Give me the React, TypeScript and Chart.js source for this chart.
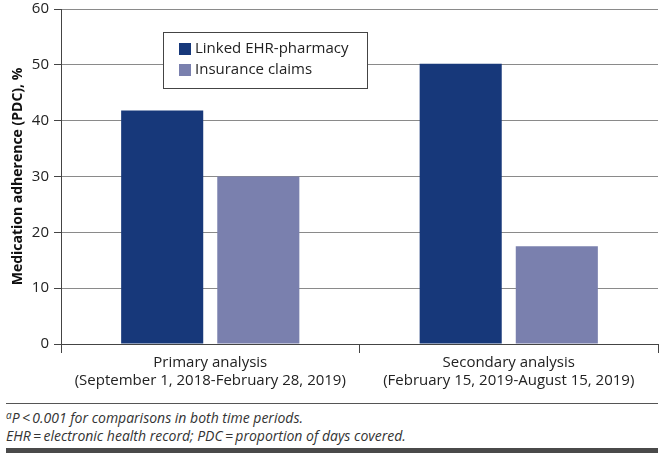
import React, { useEffect, useRef } from "react";
import { Chart, registerables } from "chart.js";

Chart.register(...registerables);

const categories: string[][] = [
  ["Primary analysis", "(September 1, 2018-February 28, 2019)"],
  ["Secondary analysis", "(February 15, 2019-August 15, 2019)"],
];
const seriesNames = ["Linked EHR-pharmacy", "Insurance claims"];
const linkedValues = [41.8, 50.2];
const claimsValues = [30.0, 17.5];
const yMin = 0;
const yMax = 60;
const yStep = 10;
const yTitle = "Medication adherence (PDC), %";
const footnote2 = "EHR\u2009=\u2009electronic health record; PDC\u2009=\u2009proportion of days covered.";

const DARK = "#17387a";
const LIGHT = "#7a80ae";
const FONT = "'Open Sans', 'Noto Sans', sans-serif";

const boxLegend = {
  id: "boxLegend",
  afterDraw(chart: any) {
    const { ctx, chartArea } = chart;
    const x0 = chartArea.left + 102;
    const y0 = chartArea.top + 23;
    const w = 204;
    const h = 56;
    ctx.save();
    ctx.fillStyle = "#ffffff";
    ctx.fillRect(x0, y0, w, h);
    ctx.strokeStyle = "#444";
    ctx.lineWidth = 1;
    ctx.strokeRect(x0 + 0.5, y0 + 0.5, w, h);
    ctx.font = `15px ${FONT}`;
    ctx.textBaseline = "middle";
    chart.data.datasets.forEach((ds: any, i: number) => {
      const cy = y0 + 17 + i * 21;
      ctx.fillStyle = ds.backgroundColor;
      ctx.fillRect(x0 + 16, cy - 6, 12, 12);
      ctx.fillStyle = "#222";
      ctx.fillText(ds.label, x0 + 32, cy);
    });
    ctx.restore();
  },
};

export default function App() {
  const ref = useRef<HTMLCanvasElement>(null);
  useEffect(() => {
    if (!ref.current) return;
    const chart = new Chart(ref.current, {
      type: "bar",
      data: {
        labels: categories,
        datasets: [
          { label: seriesNames[0], data: linkedValues, backgroundColor: DARK },
          { label: seriesNames[1], data: claimsValues, backgroundColor: LIGHT },
        ],
      },
      options: {
        responsive: false,
        animation: false,
        devicePixelRatio: 1,
        layout: { padding: { top: 9, right: 7, left: 0, bottom: 0 } },
        datasets: { bar: { categoryPercentage: 0.644, barPercentage: 0.854 } },
        plugins: { legend: { display: false }, tooltip: { enabled: false } },
        scales: {
          x: {
            grid: {
              offset: true,
              drawOnChartArea: false,
              tickLength: 9,
              tickColor: "#444",
            },
            border: { color: "#444", width: 1 },
            ticks: {
              color: "#222",
              font: { family: FONT, size: 15 },
              padding: 1,
              maxRotation: 0,
            },
            afterFit: (s: any) => {
              s.height = 56;
              s.paddingLeft = 0;
              s.paddingRight = 0;
            },
          },
          y: {
            min: yMin,
            max: yMax,
            ticks: {
              stepSize: yStep,
              color: "#222",
              font: { family: FONT, size: 15 },
              padding: 5,
            },
            grid: { color: "#8a8a8a", tickColor: "#444", tickLength: 7 },
            border: { color: "#444", width: 1 },
            title: {
              display: true,
              text: yTitle,
              color: "#111",
              font: { family: FONT, size: 14, weight: "bold" },
              padding: { top: 10, bottom: 0 },
            },
            afterFit: (s: any) => {
              s.width = 61;
              s.paddingTop = 0;
              s.paddingBottom = 0;
            },
          },
        },
      },
      plugins: [boxLegend],
    });
    return () => chart.destroy();
  }, []);

  return (
    <div style={{ position: "absolute", left: 0, top: 0, width: 665, height: 457, background: "#fff", fontFamily: FONT }}>
      <canvas ref={ref} width={665} height={400} style={{ display: "block" }} />
      <div style={{ position: "absolute", left: 6, top: 403, width: 652, height: 1, background: "#555" }} />
      <div style={{ position: "absolute", left: 6, top: 409, fontSize: 14, fontStyle: "italic", color: "#333", lineHeight: "18px", whiteSpace: "nowrap" }}>
        <div>
          <sup style={{ fontSize: 10, verticalAlign: "4px", lineHeight: 0 }}>a</sup>
          P{"\u2009<\u2009"}0.001 for comparisons in both time periods.
        </div>
        <div>{footnote2}</div>
      </div>
      <div style={{ position: "absolute", left: 6, top: 448, width: 652, height: 5, background: "#4a4a4a" }} />
    </div>
  );
}
